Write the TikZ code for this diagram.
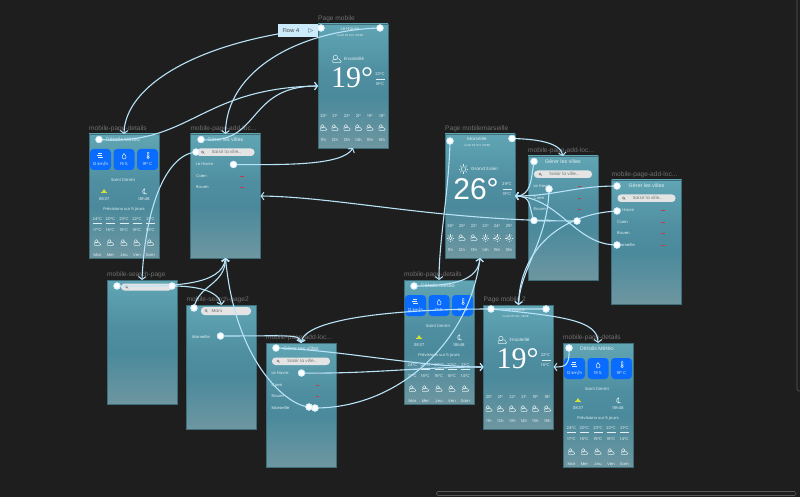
\documentclass[tikz,border=0pt]{standalone}
\usepackage{fontspec}
\setmainfont{Poppins}
\newfontfamily\lblfont{Liberation Sans}
\newfontfamily\bigserif{Liberation Serif}
\newfontfamily\dv{DejaVu Sans}
\usetikzlibrary{arrows.meta}
\definecolor{bgc}{HTML}{1E1E1E}
\definecolor{lblc}{HTML}{707070}
\definecolor{uic}{HTML}{E2EFF2}
\definecolor{linkc}{HTML}{B9E3F8}
\definecolor{tilec}{HTML}{0A6CFF}
\definecolor{pillc}{HTML}{E4E4E4}
\definecolor{framec}{HTML}{3E6E7A}
\definecolor{remc}{HTML}{B8404A}
\definecolor{sunc}{HTML}{D8E030}
\pgfdeclareverticalshading{pagegrad}{100bp}{rgb(0bp)=(0.43,0.59,0.63);rgb(25bp)=(0.43,0.59,0.63);rgb(46bp)=(0.29,0.54,0.61);rgb(56bp)=(0.31,0.56,0.63);rgb(75bp)=(0.38,0.65,0.71);rgb(100bp)=(0.38,0.65,0.71)}
\tikzset{
  x=1pt,y=-1pt,
  pageframe/.style={draw=framec,line width=0.6pt,shading=pagegrad,inner sep=0pt,outer sep=0pt,anchor=north west,minimum width=70pt,minimum height=124pt},
  lbl/.style={font=\lblfont\fontsize{6.6}{7}\selectfont,text=lblc,anchor=south west,inner sep=0pt},
  ui/.style={font=\fontsize{4}{4.5}\selectfont,text=uic,inner sep=0pt},
  uil/.style={ui,anchor=west},
  ttl/.style={font=\fontsize{5}{5.5}\selectfont,text=uic,inner sep=0pt},
  uig/.style={font=\fontsize{4.4}{5}\selectfont,text=black!55,inner sep=0pt},
  ico/.style={draw=uic,line width=0.45pt},
  link/.style={draw=linkc,line width=1.1pt,-{Straight Barb[length=2.8pt,width=7.5pt,line width=1pt]}},
  hot/.style={circle,fill=linkc!70!white,minimum size=7.4pt,inner sep=0pt,outer sep=0pt},
  pill/.style={fill=pillc,rounded corners=3.5pt},
  tile/.style={fill=tilec,rounded corners=3.5pt},
}
\newcommand{\wcloud}[2]{%
  \begin{scope}[shift={(#1,#2)}]
    \draw[ico] (-1.2,-1.2) circle (1.7);
    \draw[ico] (-3,2.8) .. controls (-4.2,0.8) and (-2.6,-0.6) .. (-1,0.2) .. controls (0.6,-1) and (2.8,0) .. (2.6,1.2) .. controls (3.6,1.4) and (3.4,2.8) .. (2.4,2.8) -- cycle;
  \end{scope}}
\newcommand{\wsun}[2]{%
  \begin{scope}[shift={(#1,#2)}]
    \draw[ico] (0,0) circle (1.8);
    \foreach \ang in {0,45,...,315} \draw[ico] (\ang:2.5) -- (\ang:3.6);
  \end{scope}}
\newcommand{\mglass}[2]{\draw[black!55,line width=0.35pt] (#1,#2) circle (1.1) ++(0.8,0.8) -- ++(1,1);}
\newcommand{\drawpage}[3]{\node[pageframe] (#1) at (#2,#3) {};}
\newcommand{\fcol}[4]{%
  \node[ui] at (#1,85) {#2°C};
  \draw[uic,line width=0.3pt] (#1-4.5,89.3) -- (#1+4.5,89.3);
  \node[ui] at (#1,96) {#3°C};
  \wcloud{#1}{108.5}
  \node[ui] at (#1,121) {#4};}
\newcommand{\detailpage}[3]{%
  \node[lbl] at (#2,#3-2) {mobile-page-details};
  \node[pageframe] (#1) at (#2,#3) {};
  \begin{scope}[shift={(#2,#3)}]
    \node[ttl] at (34,6) {Détails Météo};
    \fill[tile] (1,15) rectangle (22,36);
    \fill[tile] (24.5,15) rectangle (45.5,36);
    \fill[tile] (48,15) rectangle (69,36);
    \draw[ico,line width=0.5pt] (7.5,21) -- (13,21) (9,23) -- (14,23) (9,19.5) -- (13,19.5);
    \draw[ico,line width=0.5pt] (35,19.5) -- (36.8,22) arc (-30:210:2) -- cycle;
    \draw[ico,line width=0.5pt] (58.5,18.5) rectangle (59.8,22.5) (59.15,23.5) circle (1.2);
    \node[ui] at (11.5,30) {12 km/h};
    \node[ui] at (35,30) {19 \%};
    \node[ui] at (58.5,30) {19° C};
    \node[ui] at (34,45.5) {Saint Dimitri};
    \fill[sunc] (13,58) -- (15,55) -- (17,58) -- cycle;
    \draw[sunc,line width=0.4pt] (12,58.6) -- (18,58.6);
    \draw[ico] (56,54.5) .. controls (52,56) and (53,61) .. (58,60) .. controls (55,60) and (54,57) .. (56,54.5);
    \node[ui] at (15,65) {08:37};
    \node[ui] at (55,65) {18h48};
    \node[ui] at (35,75.5) {Prévisions sur 5 jours};
    \fcol{8.5}{24}{17}{Mar}
    \fcol{21.5}{20}{16}{Mer}
    \fcol{35}{23}{15}{Jeu}
    \fcol{48}{22}{16}{Ven}
    \fcol{61.5}{21}{14}{Sam}
  \end{scope}}
\newcommand{\addpage}[3]{%
  \node[lbl] at (#2,#3-2) {mobile-page-add-loc...};
  \node[pageframe] (#1) at (#2,#3) {};
  \begin{scope}[shift={(#2,#3)}]
    \node[ttl] at (35,6) {Gérer les villes};
    \fill[pill] (6,14.5) rectangle (64,22);
    \mglass{12}{18}
    \node[uig] at (36,18.2) {Saisir la ville...};
    \node[uil] at (5.5,30.5) {Le Havre};
    \node[uil] at (5.5,42) {Caen};
    \node[uil] at (5.5,53.5) {Rouen};
    \draw[remc,line width=0.5pt] (49.5,30.5) -- (53,30.5) (49.5,42) -- (53,42) (49.5,53.5) -- (53,53.5);
  \end{scope}}
\newcommand{\marseilleitem}[2]{%
  \begin{scope}[shift={(#1,#2)}]
    \node[uil] at (5.5,65) {Marseille};
    \draw[remc,line width=0.5pt] (49.5,65) -- (53,65);
  \end{scope}}
\newcommand{\weatherlabels}[7]{%
  \begin{scope}[shift={(#1,#2)}]
    \node[ui,font=\fontsize{4.4}{5}\selectfont] at (32,4.5) {#3};
    \node[ui,font=\fontsize{2.8}{3}\selectfont] at (32,11) {#4};
    \node[ui,font=\fontsize{4.4}{5}\selectfont,anchor=west] at (26,35) {#5};
    \node[ui] at (62,50) {#6};
    \draw[uic,line width=0.35pt] (58,55) -- (67,55);
    \node[ui] at (62,60.5) {#7};
    \node[ui] at (5.5,116) {11h};
    \node[ui] at (17,116) {12h};
    \node[ui] at (29,116) {13h};
    \node[ui] at (40.5,116) {14h};
    \node[ui] at (52,116) {15h};
    \node[ui] at (64,116) {16h};
  \end{scope}}
\newcommand{\tempsrow}[8]{%
  \begin{scope}[shift={(#1,#2)}]
    \node[ui] at (5.5,92) {#3°};
    \node[ui] at (17,92) {#4°};
    \node[ui] at (29,92) {#5°};
    \node[ui] at (40.5,92) {#6°};
    \node[ui] at (52,92) {#7°};
    \node[ui] at (64,92) {#8°};
  \end{scope}}
\newcommand{\cloudrow}[2]{%
  \begin{scope}[shift={(#1,#2)}]
    \wcloud{5.5}{103.5}\wcloud{17}{103.5}\wcloud{29}{103.5}\wcloud{40.5}{103.5}\wcloud{52}{103.5}\wcloud{64}{103.5}
  \end{scope}}
\begin{document}
\begin{tikzpicture}
\useasboundingbox (0,0) rectangle (800,497);
\fill[bgc] (0,0) rectangle (800,497);
\draw[black!65,line width=0.6pt,fill=bgc,rounded corners=1.5pt] (436.5,491.5) rectangle (796,495.5);
\draw[black!65,line width=0.6pt,rounded corners=1.5pt] (797,-4) -- (797,391) -- (801,391);
\node[lbl] at (318,22.5) {Page mobile};
\drawpage{A}{318}{24}
\weatherlabels{318}{24}{Le Havre}{Lundi 26 Oct. 08:48}{Ensoleillé}{22°C}{16°C}
\node[text=white,inner sep=0pt,font=\bigserif\fontsize{30}{31}\selectfont] at (352,77.5) {19°};
\begin{scope}[shift={(337,59)},scale=1.3]\wcloud{0}{0}\end{scope}
\tempsrow{318}{24}{20}{21}{22}{21}{19}{18}
\cloudrow{318}{24}
\detailpage{B}{89}{134}
\addpage{C}{190.5}{134}
\node[lbl] at (445,132) {Page mobilemarseille};
\drawpage{D}{445}{134}
\weatherlabels{445}{134}{Marseille}{Lundi 26 Oct. 08:48}{Grand Soleil}{29°C}{19°C}
\node[text=white,inner sep=0pt,font=\lblfont\fontsize{30}{31}\selectfont] at (476,189) {26°};
\begin{scope}[shift={(463.5,169)},scale=1.3]\wsun{0}{0}\end{scope}
\tempsrow{445}{134}{25}{25}{22}{23}{24}{25}
\begin{scope}[shift={(445,134)}]
  \wsun{5.5}{104}\wcloud{17}{103.5}\wcloud{29}{103.5}\wsun{40.5}{104}\wsun{52}{104}\wsun{64}{104}
\end{scope}
\addpage{E}{528}{156}
\marseilleitem{528}{156}
\addpage{F}{611.5}{180}
\marseilleitem{611.5}{180}
\node[lbl] at (107,278) {mobile-search-page};
\drawpage{G}{107}{280}
\begin{scope}[shift={(107,280)}]
  \fill[pill] (14,3.5) rectangle (65,10.5);
  \mglass{19.5}{6.8}
\end{scope}
\node[lbl] at (186.5,303) {mobile-search-page2};
\drawpage{H}{186.5}{305}
\begin{scope}[shift={(186.5,305)}]
  \fill[pill] (14.5,2) rectangle (64.5,10);
  \mglass{19.5}{5.5}
  \node[uig,anchor=west] at (25,6.2) {Mars};
  \node[uil] at (5.5,31.5) {Marseille};
\end{scope}
\addpage{I}{266}{343}
\marseilleitem{266}{343}
\detailpage{J}{404}{280}
\node[lbl] at (483.5,303) {Page mobile 2};
\drawpage{K}{483.5}{305}
\weatherlabels{483.5}{305}{Le Havre}{Lundi 26 Oct. 08:48}{Ensoleillé}{22°C}{16°C}
\node[text=white,inner sep=0pt,font=\bigserif\fontsize{30}{31}\selectfont] at (517.5,358.5) {19°};
\begin{scope}[shift={(502.5,340)},scale=1.3]\wcloud{0}{0}\end{scope}
\tempsrow{483.5}{305}{20}{21}{22}{21}{19}{18}
\cloudrow{483.5}{305}
\detailpage{L}{563}{343}
\node[hot] (a1) at (321,28) {};
\node[hot] (a2) at (380,28) {};
\node[hot] (b1) at (99,139.5) {};
\node[hot] (c1) at (201,139.5) {};
\node[hot] (c2) at (196,152) {};
\node[hot] (c3) at (233.5,164.5) {};
\node[hot] (d1) at (450,141) {};
\node[hot] (d2) at (512,138.5) {};
\node[hot] (e1) at (534,161.5) {};
\node[hot] (e2) at (549,189) {};
\node[hot] (e3) at (534,220.5) {};
\node[hot] (e4) at (577,221) {};
\node[hot] (f1) at (617,186) {};
\node[hot] (f2) at (617,211) {};
\node[hot] (f3) at (617,245) {};
\node[hot] (g1) at (117,286) {};
\node[hot] (g2) at (172,286) {};
\node[hot] (h1) at (194,308) {};
\node[hot] (h2) at (220.5,336) {};
\node[hot] (i1) at (276,348) {};
\node[hot] (i2) at (301.5,373) {};
\node[hot] (i3) at (315,408) {};
\node[hot] (i4) at (309,407) {};
\node[hot] (j1) at (414,286) {};
\node[hot] (k1) at (491,309) {};
\node[hot] (k2) at (546,309) {};
\node[hot] (l1) at (569,348) {};
\draw[link] (a1.center) .. controls (200,40) and (125,85) .. (B.north);
\draw[link] (a2.center) .. controls (300,30) and (226,70) .. (C.north);
\draw[link] (b1.center) .. controls (190,146) and (200,88) .. (A.west);
\draw[link] (c1.center) .. controls (262,146) and (245,86) .. (A.west);
\draw[link] (c2.center) .. controls (165,155) and (145,210) .. (G.north);
\draw[link] (c3.center) .. controls (290,165) and (342,165) .. (A.south);
\draw[link] (d1.center) .. controls (449,190) and (439,240) .. (J.north);
\draw[link] (d2.center) .. controls (535,139) and (560,142) .. (E.north);
\draw[link] (e1.center) .. controls (531,180) and (531,196) .. (D.east);
\draw[link] (e2.center) .. controls (548,240) and (520,270) .. (K.north);
\draw[link] (e3.center) .. controls (528,205) and (532,196) .. (D.east);
\draw[link] (e4.center) .. controls (440,221) and (340,197) .. (C.east);
\draw[link] (f1.center) .. controls (575,186) and (555,196) .. (D.east);
\draw[link] (f2.center) .. controls (560,214) and (520,250) .. (K.north);
\draw[link] (f3.center) .. controls (575,245) and (560,198) .. (D.east);
\draw[link] (g1.center) .. controls (175,287) and (222,285) .. (C.south);
\draw[link] (g2.center) .. controls (195,286) and (218,290) .. (H.north);
\draw[link] (h1.center) .. controls (198,285) and (225,285) .. (C.south);
\draw[link] (h2.center) .. controls (290,336) and (300,334) .. (I.north);
\draw[link] (i1.center) .. controls (340,350) and (420,367) .. (K.west);
\draw[link] (i2.center) .. controls (370,374) and (420,367) .. (K.west);
\draw[link] (i3.center) .. controls (400,408) and (470,340) .. (D.south);
\draw[link] (i4.center) .. controls (285,405) and (235,360) .. (C.south);
\draw[link] (j1.center) .. controls (455,286) and (478,280) .. (D.south);
\draw[link] (k1.center) .. controls (560,316) and (598,320) .. (L.north);
\draw[link] (k2.center) -- (k1.center) .. controls (400,309) and (305,318) .. (I.north);
\draw[link] (l1.center) .. controls (570,366) and (565,367) .. (K.east);
\node[fill=linkc!75!white,inner sep=0pt,minimum width=39.5pt,minimum height=13pt,anchor=north west] (flow) at (278,24) {};
\node[inner sep=0pt,text=black!75,font=\fontsize{5.4}{6}\selectfont] at (291,31) {Flow 4};
\node[inner sep=0pt,text=black!75,font=\dv\fontsize{6}{6}\selectfont] at (311,30.5) {▷};
\foreach \nm in {a1,a2,b1,c1,c2,c3,d1,d2,e1,e2,e3,e4,f1,f2,f3,g1,g2,h1,h2,i1,i2,i3,i4,j1,k1,k2,l1}{
  \fill[linkc!70!white] (\nm) circle (3.6);
  \fill[white] (\nm) circle (2.8);
}
\end{tikzpicture}
\end{document}
